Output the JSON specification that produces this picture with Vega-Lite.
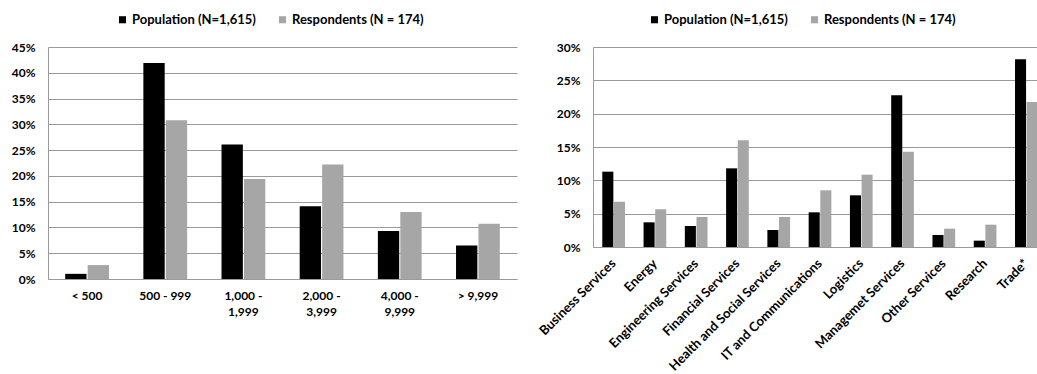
{
  "$schema": "https://vega.github.io/schema/vega-lite/v6.json",
  "padding": {"left": 11, "top": 13, "right": 0, "bottom": 0},
  "spacing": 20,
  "config": {
    "font": "Lato",
    "view": {"stroke": null},
    "axis": {
      "labelFont": "Lato",
      "labelFontWeight": "bold",
      "labelFontSize": 12,
      "labelColor": "#000000",
      "title": null,
      "ticks": false,
      "domainColor": "#9a9a9a",
      "gridColor": "#9a9a9a",
      "gridWidth": 1
    },
    "legend": {
      "labelFont": "Lato",
      "labelFontWeight": "bold",
      "labelFontSize": 13,
      "labelColor": "#000000",
      "symbolType": "square",
      "symbolSize": 50,
      "symbolStrokeWidth": 0,
      "labelOffset": 3,
      "columnPadding": 20,
      "padding": 0
    }
  },
  "resolve": {
    "legend": {"color": "independent"},
    "scale": {"color": "independent", "x": "independent", "xOffset": "independent", "y": "independent"}
  },
  "hconcat": [
    {
      "width": 469,
      "height": 232,
      "data": {
        "values": [
          {"size": "< 500", "series": "Population (N=1,615)", "pct": 1.0},
          {"size": "< 500", "series": "Respondents (N = 174)", "pct": 2.7},
          {"size": "500 - 999", "series": "Population (N=1,615)", "pct": 41.9},
          {"size": "500 - 999", "series": "Respondents (N = 174)", "pct": 30.8},
          {"size": "1,000 - 1,999", "series": "Population (N=1,615)", "pct": 26.1},
          {"size": "1,000 - 1,999", "series": "Respondents (N = 174)", "pct": 19.4},
          {"size": "2,000 - 3,999", "series": "Population (N=1,615)", "pct": 14.1},
          {"size": "2,000 - 3,999", "series": "Respondents (N = 174)", "pct": 22.2},
          {"size": "4,000 - 9,999", "series": "Population (N=1,615)", "pct": 9.3},
          {"size": "4,000 - 9,999", "series": "Respondents (N = 174)", "pct": 13.0},
          {"size": "> 9,999", "series": "Population (N=1,615)", "pct": 6.5},
          {"size": "> 9,999", "series": "Respondents (N = 174)", "pct": 10.7}
        ]
      },
      "mark": {"type": "bar"},
      "encoding": {
        "x": {
          "field": "size",
          "type": "nominal",
          "sort": null,
          "scale": {"paddingInner": 0.44, "paddingOuter": 0.22},
          "axis": {
            "labelAngle": 0,
            "labelPadding": 11,
            "labelLineHeight": 16,
            "labelExpr": "length(datum.label) > 10 ? [slice(datum.label, 0, 7), slice(datum.label, 8)] : datum.label"
          }
        },
        "xOffset": {
          "field": "series",
          "type": "nominal",
          "sort": null,
          "scale": {"paddingInner": 0.05}
        },
        "y": {
          "field": "pct",
          "type": "quantitative",
          "scale": {"domain": [0, 45]},
          "axis": {
            "values": [0, 5, 10, 15, 20, 25, 30, 35, 40, 45],
            "labelExpr": "datum.value + '%'",
            "grid": true,
            "labelPadding": 13
          }
        },
        "color": {
          "field": "series",
          "type": "nominal",
          "sort": null,
          "scale": {
            "domain": ["Population (N=1,615)", "Respondents (N = 174)"],
            "range": ["#000000", "#a6a6a6"]
          },
          "legend": {"orient": "none", "direction": "horizontal", "legendX": 68, "legendY": -34, "title": null}
        }
      }
    },
    {
      "width": 454,
      "height": 200,
      "data": {
        "values": [
          {"sector": "Business Services", "series": "Population (N=1,615)", "pct": 11.3},
          {"sector": "Business Services", "series": "Respondents (N = 174)", "pct": 6.8},
          {"sector": "Energy", "series": "Population (N=1,615)", "pct": 3.7},
          {"sector": "Energy", "series": "Respondents (N = 174)", "pct": 5.65},
          {"sector": "Engineering Services", "series": "Population (N=1,615)", "pct": 3.15},
          {"sector": "Engineering Services", "series": "Respondents (N = 174)", "pct": 4.5},
          {"sector": "Financial Services", "series": "Population (N=1,615)", "pct": 11.8},
          {"sector": "Financial Services", "series": "Respondents (N = 174)", "pct": 16.0},
          {"sector": "Health and Social Services", "series": "Population (N=1,615)", "pct": 2.55},
          {"sector": "Health and Social Services", "series": "Respondents (N = 174)", "pct": 4.5},
          {"sector": "IT and Communications", "series": "Population (N=1,615)", "pct": 5.2},
          {"sector": "IT and Communications", "series": "Respondents (N = 174)", "pct": 8.5},
          {"sector": "Logistics", "series": "Population (N=1,615)", "pct": 7.75},
          {"sector": "Logistics", "series": "Respondents (N = 174)", "pct": 10.85},
          {"sector": "Managemet Services", "series": "Population (N=1,615)", "pct": 22.75},
          {"sector": "Managemet Services", "series": "Respondents (N = 174)", "pct": 14.3},
          {"sector": "Other Services", "series": "Population (N=1,615)", "pct": 1.8},
          {"sector": "Other Services", "series": "Respondents (N = 174)", "pct": 2.75},
          {"sector": "Research", "series": "Population (N=1,615)", "pct": 0.95},
          {"sector": "Research", "series": "Respondents (N = 174)", "pct": 3.35},
          {"sector": "Trade*", "series": "Population (N=1,615)", "pct": 28.15},
          {"sector": "Trade*", "series": "Respondents (N = 174)", "pct": 21.75}
        ]
      },
      "mark": {"type": "bar"},
      "encoding": {
        "x": {
          "field": "sector",
          "type": "nominal",
          "sort": null,
          "scale": {"paddingInner": 0.45, "paddingOuter": 0.225},
          "axis": {
            "labelAngle": -45,
            "labelAlign": "right",
            "labelBaseline": "middle",
            "labelFontSize": 13,
            "labelPadding": 14
          }
        },
        "xOffset": {
          "field": "series",
          "type": "nominal",
          "sort": null,
          "scale": {"paddingInner": 0.05}
        },
        "y": {
          "field": "pct",
          "type": "quantitative",
          "scale": {"domain": [0, 30]},
          "axis": {
            "values": [0, 5, 10, 15, 20, 25, 30],
            "labelExpr": "datum.value + '%'",
            "grid": true,
            "labelPadding": 13
          }
        },
        "color": {
          "field": "series",
          "type": "nominal",
          "sort": null,
          "scale": {
            "domain": ["Population (N=1,615)", "Respondents (N = 174)"],
            "range": ["#000000", "#a6a6a6"]
          },
          "legend": {"orient": "none", "direction": "horizontal", "legendX": 55, "legendY": -34, "title": null}
        }
      }
    }
  ]
}
